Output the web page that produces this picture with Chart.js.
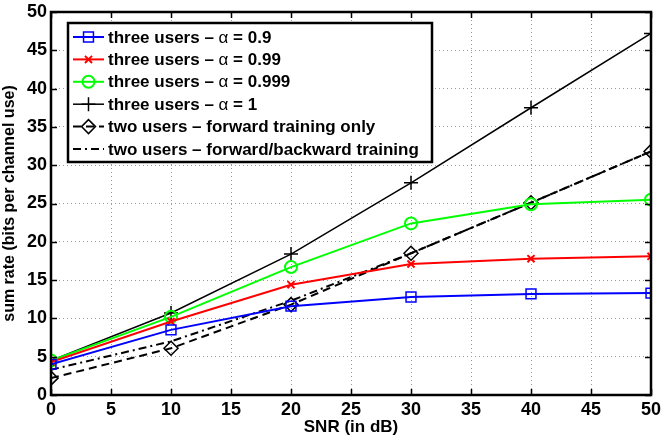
<!DOCTYPE html>
<html>
<head>
<meta charset="utf-8">
<script src="https://cdn.jsdelivr.net/npm/chart.js@4.4.0/dist/chart.umd.min.js"></script>
<style>
  html, body { margin: 0; padding: 0; background: #fff; }
  #wrap { width: 661px; height: 438px; }
</style>
</head>
<body>
<div id="wrap"><canvas id="graph1" width="661" height="438"></canvas></div>
<script>
const snr = [0, 10, 20, 30, 40, 50];
const alpha09 = [4.0, 8.5, 11.6, 12.8, 13.2, 13.3];
const alpha099 = [4.3, 9.6, 14.4, 17.1, 17.8, 18.1];
const alpha0999 = [4.5, 10.2, 16.7, 22.4, 24.9, 25.5];
const alpha1 = [4.5, 10.7, 18.4, 27.7, 37.5, 47.2];
const forwardOnly = [2.2, 6.1, 11.8, 18.5, 25.1, 31.8];
const forwardBackward = [3.3, 7.0, 12.3, 18.5, 25.1, 31.8];
const labels = [
    ['three users \u2013 ', '\u03b1', ' = 0.9'],
    ['three users \u2013 ', '\u03b1', ' = 0.99'],
    ['three users \u2013 ', '\u03b1', ' = 0.999'],
    ['three users \u2013 ', '\u03b1', ' = 1'],
    ['two users \u2013 forward training only'],
    ['two users \u2013 forward/backward training']
];
const xTicks = [0, 5, 10, 15, 20, 25, 30, 35, 40, 45, 50];
const yTicks = [0, 5, 10, 15, 20, 25, 30, 35, 40, 45, 50];

const FONT = 'Liberation Sans, Arial, sans-serif';

function pts(arr) {
    return arr.map((v, i) => ({ x: snr[i], y: v }));
}

// ticks inside the box on all four sides plus the black frame
const frame = {
    id: 'frame',
    afterDatasetsDraw(chart) {
        const ctx = chart.ctx;
        const a = chart.chartArea;
        const xs = chart.scales.x, ys = chart.scales.y;
        ctx.save();
        ctx.strokeStyle = '#000';
        ctx.lineWidth = 1.5;
        ctx.beginPath();
        xTicks.forEach(t => {
            const px = Math.round(xs.getPixelForValue(t)) + 0.5;
            ctx.moveTo(px, a.bottom); ctx.lineTo(px, a.bottom - 6);
            ctx.moveTo(px, a.top); ctx.lineTo(px, a.top + 6);
        });
        yTicks.forEach(t => {
            const py = Math.round(ys.getPixelForValue(t)) + 0.5;
            ctx.moveTo(a.left, py); ctx.lineTo(a.left + 6, py);
            ctx.moveTo(a.right, py); ctx.lineTo(a.right - 6, py);
        });
        ctx.stroke();
        ctx.lineWidth = 2.5;
        ctx.strokeRect(a.left, a.top, a.right - a.left, a.bottom - a.top);
        ctx.restore();
    }
};

// legend drawn inside the plot, MATLAB style
const boxLegend = {
    id: 'boxLegend',
    afterDraw(chart) {
        const ctx = chart.ctx;
        const bx = 68, by = 23, bw = 364, bh = 139;
        ctx.save();
        ctx.fillStyle = '#fff';
        ctx.fillRect(bx, by, bw, bh);
        ctx.strokeStyle = '#000';
        ctx.lineWidth = 2.5;
        ctx.strokeRect(bx, by, bw, bh);
        chart.data.datasets.forEach((ds, i) => {
            const y = 37 + i * 22.4;
            ctx.save();
            ctx.strokeStyle = ds.borderColor;
            ctx.lineWidth = ds.borderWidth;
            ctx.setLineDash(ds.borderDash || []);
            ctx.beginPath();
            ctx.moveTo(73, y); ctx.lineTo(104, y);
            ctx.stroke();
            ctx.restore();
            if (ds.pointRadius > 0) {
                ctx.save();
                ctx.strokeStyle = ds.pointBorderColor || ds.borderColor;
                ctx.fillStyle = ds.pointBackgroundColor || 'rgba(0,0,0,0)';
                ctx.lineWidth = ds.pointBorderWidth;
                Chart.helpers.drawPoint(ctx, {
                    pointStyle: ds.pointStyle,
                    radius: ds.pointRadius,
                    borderWidth: ds.pointBorderWidth
                }, 88.5, y);
                ctx.restore();
            }
            let tx = 108;
            ctx.fillStyle = '#000';
            ctx.textBaseline = 'middle';
            labels[i].forEach((part, k) => {
                ctx.font = (k === 1 ? '' : 'bold ') + '17px ' + FONT;
                ctx.fillText(part, tx, y + 1);
                tx += ctx.measureText(part).width;
            });
        });
        ctx.restore();
    }
};

const canvas = document.getElementById('graph1');

new Chart(canvas, {
    type: 'line',
    data: {
        datasets: [
            {
                data: pts(alpha09), borderColor: '#0000ff', borderWidth: 2,
                pointStyle: 'rect', pointRadius: 7, pointBorderWidth: 1.5,
                pointBackgroundColor: 'rgba(0,0,0,0)'
            },
            {
                data: pts(alpha099), borderColor: '#ff0000', borderWidth: 2,
                pointStyle: 'crossRot', pointRadius: 5, pointBorderWidth: 2
            },
            {
                data: pts(alpha0999), borderColor: '#00ff00', borderWidth: 2,
                pointStyle: 'circle', pointRadius: 6, pointBorderWidth: 2,
                pointBackgroundColor: 'rgba(0,0,0,0)'
            },
            {
                data: pts(alpha1), borderColor: '#000000', borderWidth: 1.5,
                pointStyle: 'cross', pointRadius: 7, pointBorderWidth: 1.5
            },
            {
                data: pts(forwardOnly), borderColor: '#000000', borderWidth: 2,
                borderDash: [8, 5],
                pointStyle: 'rectRot', pointRadius: 7, pointBorderWidth: 1.5,
                pointBackgroundColor: 'rgba(0,0,0,0)'
            },
            {
                data: pts(forwardBackward), borderColor: '#000000', borderWidth: 2,
                borderDash: [8, 4, 2, 4],
                pointRadius: 0, pointBorderWidth: 0
            }
        ]
    },
    options: {
        responsive: false,
        animation: false,
        layout: { padding: { top: 12, right: 10, left: 0, bottom: 0 } },
        plugins: {
            legend: { display: false },
            tooltip: { enabled: false }
        },
        elements: { line: { tension: 0 } },
        scales: {
            x: {
                type: 'linear', min: 0, max: 50,
                afterBuildTicks(s) { s.ticks = xTicks.map(v => ({ value: v })); },
                afterFit(s) { s.height = 43; s.paddingLeft = 0; s.paddingRight = 0; },
                grid: { color: '#9a9a9a', lineWidth: 1, drawTicks: false },
                border: { display: false, dash: [1, 3] },
                ticks: {
                    color: '#000', padding: 4,
                    font: { family: FONT, size: 18, weight: 'bold' }
                },
                title: {
                    display: true, text: 'SNR (in dB)', color: '#000',
                    padding: { top: -4, bottom: 0 },
                    font: { family: FONT, size: 17, weight: 'bold' }
                }
            },
            y: {
                type: 'linear', min: 0, max: 50,
                afterBuildTicks(s) { s.ticks = yTicks.map(v => ({ value: v })); },
                afterFit(s) { s.width = 51; s.paddingTop = 0; s.paddingBottom = 0; },
                grid: { color: '#9a9a9a', lineWidth: 1, drawTicks: false },
                border: { display: false, dash: [1, 3] },
                ticks: {
                    color: '#000', padding: 4,
                    font: { family: FONT, size: 18, weight: 'bold' }
                },
                title: {
                    display: true, text: 'sum rate (bits per channel use)', color: '#000',
                    padding: { top: 0, bottom: 0 },
                    font: { family: FONT, size: 16, weight: 'bold' }
                }
            }
        }
    },
    plugins: [frame, boxLegend]
});
</script>
</body>
</html>
